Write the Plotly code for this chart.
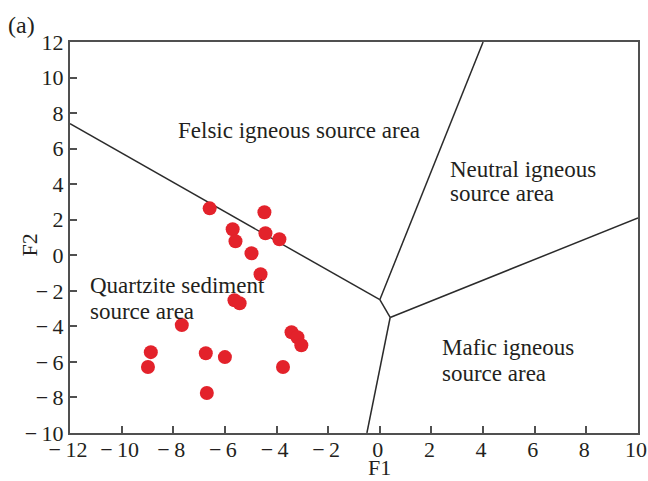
import plotly.graph_objects as go

# Discriminant function scores of the samples
f1 = [-6.59, -4.47, -5.70, -5.59, -4.43, -3.89, -4.97, -4.62, -5.63, -5.43,
      -7.67, -3.42, -3.19, -3.04, -8.87, -8.98, -6.74, -6.00, -3.75, -6.70]
f2 = [2.64, 2.42, 1.46, 0.79, 1.24, 0.90, 0.11, -1.07, -2.53, -2.70,
      -3.93, -4.33, -4.61, -5.06, -5.45, -6.29, -5.51, -5.73, -6.29, -7.75]

# Field boundaries (F1, F2 vertices)
boundaries = [
    ([-12, 0.0], [7.4, -2.5]),
    ([0.0, 4.0], [-2.5, 12.0]),
    ([0.0, 0.4], [-2.5, -3.5]),
    ([0.4, 10.0], [-3.5, 2.1]),
    ([0.4, -0.5], [-3.5, -10.0]),
]

# Field labels, one entry per text line: (text, left F1, centre F2)
fields = [
    ("Felsic igneous source area", -7.90, 7.00),
    ("Neutral igneous", 2.66, 4.85),
    ("source area", 2.66, 3.45),
    ("Quartzite sediment", -11.30, -1.72),
    ("source area", -11.30, -3.18),
    ("Mafic igneous", 2.33, -5.20),
    ("source area", 2.33, -6.66),
]

x_ticks = [-12, -10, -8, -6, -4, -2, 0, 2, 4, 6, 8, 10]
y_ticks = [-10, -8, -6, -4, -2, 0, 2, 4, 6, 8, 10, 12]


def fmt(v):
    return ("\u2212\u2009" + str(-v)) if v < 0 else str(v)


FONT = "Liberation Serif, Times New Roman, serif"
TEXT = "#231f20"

fig = go.Figure()

for xs, ys in boundaries:
    fig.add_trace(go.Scatter(x=xs, y=ys, mode="lines",
                             line=dict(color="#2b2b2b", width=1.5),
                             hoverinfo="skip", showlegend=False))

fig.add_trace(go.Scatter(x=f1, y=f2, mode="markers",
                         marker=dict(size=14, color="#e3222b",
                                     line=dict(width=0)),
                         showlegend=False))

for txt, x, y in fields:
    fig.add_annotation(x=x, y=y, text=txt, showarrow=False, xanchor="left",
                       yanchor="middle", align="left",
                       font=dict(family=FONT, size=23, color=TEXT))

# Panel letter and axis titles
fig.add_annotation(x=-0.112, y=1.083, xref="paper", yref="paper",
                   text="(a)", showarrow=False, xanchor="left", yanchor="top",
                   font=dict(family=FONT, size=24, color=TEXT))
fig.add_annotation(x=0.545, y=-0.1225, xref="paper", yref="paper",
                   text="F1", showarrow=False, xanchor="center", yanchor="bottom",
                   borderpad=0,
                   font=dict(family=FONT, size=22, color=TEXT))
fig.add_annotation(x=-0.071, y=0.481, xref="paper", yref="paper",
                   text="F2", showarrow=False, xanchor="center", yanchor="middle",
                   textangle=-90,
                   font=dict(family=FONT, size=22, color=TEXT))

axis_common = dict(
    showgrid=False, zeroline=False, showline=True, mirror=True,
    linecolor="#505050", linewidth=2, automargin=False,
    ticks="inside", ticklen=7, tickwidth=1.5, tickcolor="#505050",
    ticklabeloverflow="allow",
    tickfont=dict(family=FONT, size=22, color=TEXT),
)

fig.update_xaxes(range=[-12, 10], tickvals=x_ticks,
                 ticktext=[fmt(v) for v in x_ticks],
                 ticklabelshift=-2, ticklabelstandoff=-4, **axis_common)
fig.update_yaxes(range=[-10, 12], tickvals=y_ticks,
                 ticktext=[fmt(v) for v in y_ticks], **axis_common)

fig.update_layout(
    width=648, height=481,
    margin=dict(l=70, r=10, t=42, b=48),
    paper_bgcolor="white", plot_bgcolor="white",
)

fig.write_html("out.html")
